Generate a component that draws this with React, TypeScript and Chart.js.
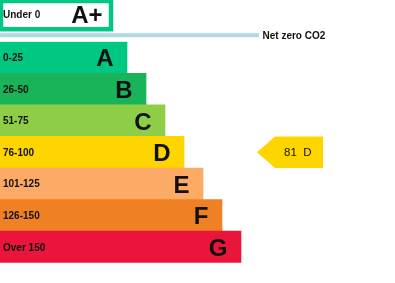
import React, { useEffect, useRef } from "react";
import Chart from "chart.js/auto";

const bands = ["A", "B", "C", "D", "E", "F", "G"];
const ranges = ["0-25", "26-50", "51-75", "76-100", "101-125", "126-150", "Over 150"];
const barLengths = [127, 146, 165, 184, 203, 222, 241];
const bandColors = ["#00c781", "#19b459", "#8dce46", "#ffd500", "#fcaa65", "#ef8023", "#e9153b"];
const topBand = "A+";
const topRange = "Under 0";
const topBandLength = 111;
const topBandColor = "#00c781";
const netZeroLabel = "Net zero CO2";
const netZeroLength = 259;
const netZeroColor = "#add8e6";
const currentScore = 81;
const currentBand = "D";

const FONT = "'Liberation Sans', Arial, sans-serif";

const epcPlugin = {
  id: "epcLabels",
  afterDatasetsDraw(chart: any) {
    const ctx = chart.ctx;
    const x = chart.scales.x;
    const y = chart.scales.y;
    const area = chart.chartArea;
    const rowH = y.getPixelForValue(1) - y.getPixelForValue(0);
    ctx.save();
    // band rows
    bands.forEach((b, i) => {
      const cy = y.getPixelForValue(i);
      ctx.fillStyle = "#111";
      ctx.font = `bold 10px ${FONT}`;
      ctx.textAlign = "left";
      ctx.textBaseline = "alphabetic";
      ctx.fillText(ranges[i], 3, cy + 3.6);
      ctx.font = `bold 24px ${FONT}`;
      ctx.textAlign = "right";
      ctx.fillText(b, x.getPixelForValue(barLengths[i]) - 13.5, cy + 9);
    });
    // A+ box
    const boxBottom = area.top - 12.5;
    const boxRight = x.getPixelForValue(topBandLength);
    ctx.strokeStyle = topBandColor;
    ctx.lineWidth = 4.5;
    ctx.strokeRect(1, 1, boxRight - 1, boxBottom - 1);
    ctx.fillStyle = "#111";
    ctx.font = `bold 10px ${FONT}`;
    ctx.textAlign = "left";
    ctx.fillText(topRange, 3, 17.5);
    ctx.font = `bold 24px ${FONT}`;
    ctx.textAlign = "right";
    ctx.fillText(topBand, boxRight - 8.5, 22.7);
    // net zero line
    const nzY = area.top - 6.5;
    ctx.fillStyle = netZeroColor;
    ctx.fillRect(0, nzY - 2, x.getPixelForValue(netZeroLength), 4);
    ctx.fillStyle = "#111";
    ctx.font = `bold 10px ${FONT}`;
    ctx.textAlign = "left";
    ctx.fillText(netZeroLabel, x.getPixelForValue(netZeroLength) + 3.5, nzY + 3.6);
    // current rating arrow
    const ci = bands.indexOf(currentBand);
    const cy = y.getPixelForValue(ci);
    const top = cy - rowH / 2;
    const bot = cy + rowH / 2;
    const tip = 257;
    const vx = 275;
    const right = 323;
    ctx.fillStyle = bandColors[ci];
    ctx.beginPath();
    ctx.moveTo(tip, cy);
    ctx.lineTo(vx, top);
    ctx.lineTo(right, top);
    ctx.lineTo(right, bot);
    ctx.lineTo(vx, bot);
    ctx.closePath();
    ctx.fill();
    ctx.fillStyle = "#111";
    ctx.font = `11.5px ${FONT}`;
    ctx.textAlign = "left";
    ctx.fillText(`${currentScore}  ${currentBand}`, 284, cy + 4);
    ctx.restore();
  },
};

export default function App() {
  const ref = useRef<HTMLCanvasElement>(null);
  useEffect(() => {
    if (!ref.current) return;
    const chart = new Chart(ref.current, {
      type: "bar",
      data: {
        labels: bands,
        datasets: [
          {
            data: barLengths,
            backgroundColor: bandColors,
            borderWidth: 0,
            barPercentage: 1,
            categoryPercentage: 1,
          },
        ],
      },
      options: {
        indexAxis: "y",
        responsive: false,
        animation: false,
        layout: { padding: { top: 41.7, bottom: 20.3, left: 0, right: 0 } },
        plugins: { legend: { display: false }, tooltip: { enabled: false } },
        scales: {
          x: { display: false, min: 0, max: 395 },
          y: { display: false },
        },
      },
      plugins: [epcPlugin],
    });
    return () => chart.destroy();
  }, []);
  return (
    <div style={{ position: "fixed", left: 0, top: 0, width: 395, height: 283, background: "#fff" }}>
      <canvas ref={ref} width={395} height={283} style={{ display: "block" }} />
    </div>
  );
}
